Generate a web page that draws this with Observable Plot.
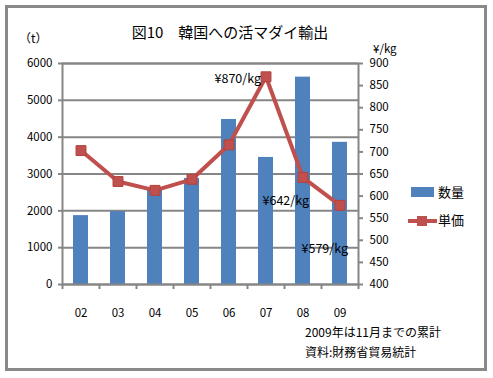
<!DOCTYPE html>
<html><head><meta charset="utf-8">
<script src="https://cdn.jsdelivr.net/npm/d3@7"></script>
<script src="https://cdn.jsdelivr.net/npm/@observablehq/plot@0.6"></script>
<style>
body{margin:0;background:#fff;font-family:"Noto Sans CJK JP","Noto Sans",sans-serif;}
#wrap{position:relative;width:493px;height:378px;overflow:hidden;background:#fff;}
#chart{position:absolute;left:0;top:0;}
#border{position:absolute;left:5px;top:5px;width:482px;height:366px;border:3px solid #898989;box-sizing:border-box;pointer-events:none;}
.t{position:absolute;white-space:nowrap;color:#000;line-height:1;}
</style></head><body>
<div id="wrap">
<div id="chart"></div>
<div id="border"></div>
<div class="t" style="left:230px;top:24px;font-size:15px;transform:translateX(-50%);">図10　韓国への活マダイ輸出</div>
<div class="t" style="left:19px;top:32px;font-size:12px;">（t）</div>
<div class="t" style="left:373px;top:43px;font-size:11.5px;">¥/kg</div>
<div class="t" style="left:411px;top:187px;width:23px;height:10px;background:#4F81BD;"></div>
<div class="t" style="left:438px;top:185px;font-size:13px;">数量</div>
<div class="t" style="left:408px;top:219px;width:29px;height:4px;background:#C0504D;"></div>
<div class="t" style="left:417px;top:216px;width:10px;height:10px;background:#C0504D;"></div>
<div class="t" style="left:438px;top:213px;font-size:13px;">単価</div>
<div class="t" style="left:305px;top:326px;font-size:12px;">2009年は11月までの累計</div>
<div class="t" style="left:305px;top:346px;font-size:12px;">資料:財務省貿易統計</div>
</div>
<script>
const years = ["02","03","04","05","06","07","08","09"];
const volume = [1870, 1980, 2600, 2880, 4480, 3450, 5630, 3860];
const price = [703, 633, 613, 638, 716, 870, 642, 579];
const volumeTicks = [0,1000,2000,3000,4000,5000,6000];
const priceTicks = [400,450,500,550,600,650,700,750,800,850,900];
const labelYears = ["07","08","09"];
const labelTexts = ["¥870/kg","¥642/kg","¥579/kg"];

// right axis (price 400–900) mapped linearly onto the left domain (0–6000)
const pMin = 400, pMax = 900, vMax = 6000;
const toY = p => (p - pMin) * vMax / (pMax - pMin);
const fromY = v => v * (pMax - pMin) / vMax + pMin;

const rows = years.map((y, i) => ({year: y, volume: volume[i], price: price[i], py: toY(price[i])}));
const labels = labelYears.map((y, i) => ({year: y, text: labelTexts[i], py: toY(price[years.indexOf(y)])}));
const labelOffsets = [[-5, 2], [6, 23], [8, 44]];

const grey = "#868686";
const chart = Plot.plot({
  width: 493, height: 378,
  marginLeft: 62, marginRight: 135, marginTop: 63, marginBottom: 94,
  style: {fontFamily: '"Noto Sans CJK JP","Noto Sans",sans-serif', fontSize: "11px", color: "#000", background: "transparent"},
  x: {domain: years, paddingInner: 0.6, paddingOuter: 0.3, label: null},
  y: {domain: [0, vMax], label: null},
  marks: [
    Plot.gridY(volumeTicks, {stroke: grey, strokeOpacity: 1, strokeWidth: 2}),
    Plot.barY(rows, {x: "year", y: "volume", fill: "#4F81BD"}),
    Plot.frame({stroke: grey, strokeWidth: 2}),
    Plot.axisY({ticks: volumeTicks, label: null, tickSize: 4, tickPadding: 6, stroke: grey, strokeWidth: 2, tickFormat: d => String(d), fontSize: 11.5}),
    Plot.axisY({anchor: "right", label: null, ticks: priceTicks.map(toY), tickSize: 4, tickPadding: 7, stroke: grey, strokeWidth: 2, tickFormat: v => String(Math.round(fromY(v))), fontSize: 11.5}),
    Plot.axisX({label: null, tickSize: 5, tickFormat: () => "", dx: -18.5, stroke: grey, strokeWidth: 2}),
    Plot.axisX({label: null, ticks: [years[years.length - 1]], tickSize: 5, tickFormat: () => "", dx: 18.5, stroke: grey, strokeWidth: 2}),
    Plot.axisX({label: null, tickSize: 0, tickPadding: 24, fontSize: 11.5}),
    Plot.line(rows, {x: "year", y: "py", stroke: "#C0504D", strokeWidth: 4}),
    Plot.dot(rows, {x: "year", y: "py", symbol: "square", r: 5.6, fill: "#C0504D", stroke: "#B3433F", strokeWidth: 1}),
    ...labels.map((d, i) => Plot.text([d], {x: "year", y: "py", text: "text", textAnchor: "end", fontSize: 12.5, fill: "#000",
      dx: labelOffsets[i][0], dy: labelOffsets[i][1]})),
  ]
});
document.getElementById("chart").appendChild(chart);
</script>
</body></html>
